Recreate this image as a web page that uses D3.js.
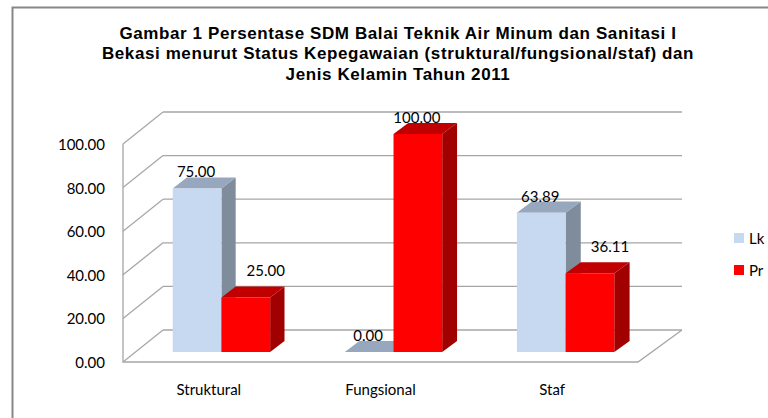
<!DOCTYPE html>
<html>
<head>
<meta charset="utf-8">
<script src="https://cdn.jsdelivr.net/npm/d3@7"></script>
<style>
  body { margin: 0; background: #fff; }
  svg { display: block; }
  .tick-label, .cat-label, .val-label, .legend-label { font-family: Lato, "Open Sans", sans-serif; font-size: 15px; fill: #000; }
  .title { font-family: Arial, "Liberation Sans", Helvetica, sans-serif; font-weight: bold; font-size: 17px; letter-spacing: 0.6px; fill: #000; }
</style>
</head>
<body>
<div id="chart"></div>
<script>
// data
const categories = ['Struktural', 'Fungsional', 'Staf'];
const seriesNames = ['Lk', 'Pr'];
const lkValues = [75.00, 0.00, 63.89];
const prValues = [25.00, 100.00, 36.11];
const yTicks = [0, 20, 40, 60, 80, 100];
const titleLines = [
	'Gambar 1 Persentase SDM Balai Teknik Air Minum dan Sanitasi I',
	'Bekasi menurut Status Kepegawaian (struktural/fungsional/staf) dan',
	'Jenis Kelamin Tahun 2011'
];

const colors = {
	Lk: { front: '#c6d9f1', top: '#97a7bd', side: '#7f8c9c' },
	Pr: { front: '#ff0000', top: '#c00000', side: '#a00000' }
};

const W = 768, H = 418;
const x0 = 123, x1 = 638;   // front floor edge
const depthY = 32;          // vertical shift of the back wall

const svg = d3.select('#chart').append('svg')
	.attr('width', W)
	.attr('height', H);

// chart border (only left/top visible)
svg.append('path')
	.attr('d', 'M12.5,' + H + ' L12.5,7.5 L' + W + ',7.5')
	.attr('fill', 'none')
	.attr('stroke', '#878787')
	.attr('stroke-width', 2);

// title
svg.append('text')
	.attr('class', 'title')
	.attr('text-anchor', 'middle')
	.selectAll('tspan')
	.data(titleLines)
	.enter().append('tspan')
	.attr('x', 398)
	.attr('y', (d, i) => 38.5 + i * 20.5)
	.text(d => d);

const xBand = d3.scaleBand()
	.domain(categories)
	.range([x0, x1])
	.padding(0);

const yScale = d3.scaleLinear()
	.domain([0, 100])
	.range([362, 144]);

// depth shift grows a bit to the right (perspective)
function proj(x, v, z) {
	const dx = z * (40 + 4 * (x - x0) / (x1 - x0));
	return [x + dx, yScale(v) - z * depthY];
}

const grid = svg.append('g')
	.attr('fill', 'none')
	.attr('stroke', '#a6a6a6')
	.attr('stroke-width', 1.3);

// back wall gridlines + left wall diagonals
yTicks.forEach(function(v) {
	const a = proj(x0, v, 1), b = proj(x1, v, 1), f = proj(x0, v, 0);
	grid.append('line')
		.attr('x1', a[0]).attr('y1', a[1])
		.attr('x2', b[0]).attr('y2', b[1]);
	grid.append('line')
		.attr('x1', f[0]).attr('y1', f[1])
		.attr('x2', a[0]).attr('y2', a[1]);
});

// front axis + floor front edge + right floor edge
const fr = proj(x1, 0, 0), br = proj(x1, 0, 1);
grid.append('path')
	.attr('d', 'M' + x0 + ',' + yScale(100) + ' L' + x0 + ',' + yScale(0) +
		' L' + fr[0] + ',' + fr[1] + ' L' + br[0] + ',' + br[1]);

// tick labels
svg.append('g')
	.selectAll('text')
	.data(yTicks)
	.enter().append('text')
	.attr('class', 'tick-label')
	.attr('text-anchor', 'end')
	.attr('x', 105)
	.attr('y', d => yScale(d) + 6)
	.text(d => d3.format('.2f')(d));

// category labels
svg.append('g')
	.selectAll('text')
	.data(categories)
	.enter().append('text')
	.attr('class', 'cat-label')
	.attr('text-anchor', 'middle')
	.attr('x', d => xBand(d) + xBand.bandwidth() / 2)
	.attr('y', 395)
	.text(d => d);

// bars
const zFront = 0.31, zBack = 0.66;
const barW = xBand.bandwidth() * 0.283;
const bars = [];
categories.forEach(function(c, i) {
	const start = xBand(c) + (xBand.bandwidth() - 2 * barW) / 2;
	bars.push({ cat: c, series: 'Lk', value: lkValues[i], x: start });
	bars.push({ cat: c, series: 'Pr', value: prValues[i], x: start + barW });
});

function pts(list) {
	return list.map(p => p.join(',')).join(' ');
}

const barG = svg.append('g');
bars.forEach(function(b) {
	const col = colors[b.series];
	const fl = proj(b.x, 0, zFront), fr2 = proj(b.x + barW, 0, zFront);
	const tl = proj(b.x, b.value, zFront), tr = proj(b.x + barW, b.value, zFront);
	const btl = proj(b.x, b.value, zBack), btr = proj(b.x + barW, b.value, zBack);
	const bbr = proj(b.x + barW, 0, zBack);
	const g = barG.append('g');
	g.append('polygon')
		.attr('points', pts([fr2, tr, btr, bbr]))
		.attr('fill', col.side);
	g.append('polygon')
		.attr('points', pts([tl, tr, btr, btl]))
		.attr('fill', col.top);
	if (b.value > 0) {
		g.append('polygon')
			.attr('points', pts([fl, fr2, tr, tl]))
			.attr('fill', col.front);
	}
	b.cx = (tl[0] + tr[0]) / 2;
	b.topY = btl[1];
});

// value labels
svg.append('g')
	.selectAll('text')
	.data(bars)
	.enter().append('text')
	.attr('class', 'val-label')
	.attr('text-anchor', 'middle')
	.attr('x', function(d) {
		if (d.series === 'Pr' && d.value < 100) return d.cx + 20;
		return d.cx - 1;
	})
	.attr('y', function(d) {
		if (d.series === 'Pr' && d.value < 100) return d.topY - 10;
		return d.topY;
	})
	.text(d => d3.format('.2f')(d.value));

// legend
const legend = svg.append('g')
	.selectAll('g')
	.data(seriesNames)
	.enter().append('g')
	.attr('transform', (d, i) => 'translate(734,' + (233 + i * 32) + ')');
legend.append('rect')
	.attr('width', 10)
	.attr('height', 10)
	.attr('fill', d => colors[d].front);
legend.append('text')
	.attr('class', 'legend-label')
	.attr('x', 15)
	.attr('y', 11)
	.text(d => d);
</script>
</body>
</html>
